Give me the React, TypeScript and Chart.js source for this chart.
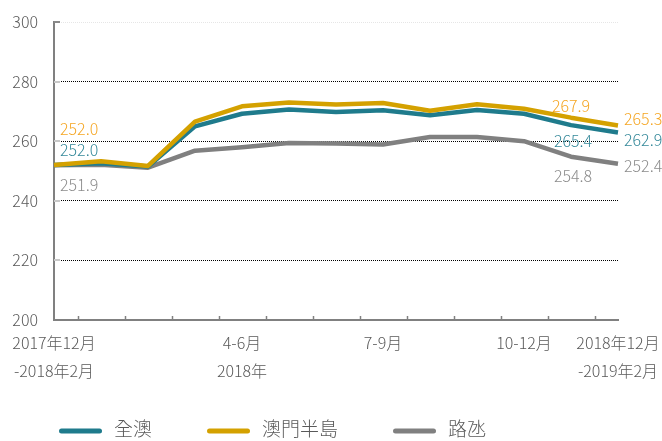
import { useEffect, useRef } from "react";
import { Chart, registerables } from "chart.js";

Chart.register(...registerables);

// ---- data ----
const periods = [
  "2017年12月-2018年2月", "2018年1-3月", "2018年2-4月", "2018年3-5月",
  "2018年4-6月", "2018年5-7月", "2018年6-8月", "2018年7-9月",
  "2018年8-10月", "2018年9-11月", "2018年10-12月", "2018年11月-2019年1月",
  "2018年12月-2019年2月",
];
const tickLabels: string[][] = [
  ["2017年12月", "-2018年2月"], [], [], [],
  ["4-6月", "2018年"], [], [], ["7-9月"],
  [], [], ["10-12月"], [],
  ["2018年12月", "-2019年2月"],
];
const seriesNames = ["全澳", "澳門半島", "路氹"];
const allMacau = [252.0, 252.6, 251.5, 265.0, 269.2, 270.6, 269.8, 270.4, 268.7, 270.5, 269.2, 265.4, 262.9];
const peninsula = [252.0, 253.3, 251.7, 266.6, 271.7, 273.0, 272.3, 272.8, 270.2, 272.4, 270.9, 267.9, 265.3];
const cotai = [251.9, 252.1, 251.1, 256.8, 258.0, 259.4, 259.2, 258.9, 261.4, 261.4, 260.0, 254.8, 252.4];
const yTicks = [200, 220, 240, 260, 280, 300];
const labelledIndices = [0, 11, 12];

// ---- styles ----
const lineColors = ["#1f7b8c", "#d4a100", "#808080"];
const labelColors = ["#35899a", "#f5a623", "#8c8c8c"];
const FONT = "'Noto Sans CJK TC', 'Noto Sans', sans-serif";
const CJK = "'Noto Sans CJK TC', 'Noto Sans', sans-serif";
const textGray = "#595959";
// label placement per labelled index: [dx, align, dy per series]
const labelPlacement: Record<number, { dx: number[]; align: CanvasTextAlign; dy: number[] }> = {
  0: { dx: [6, 6, 6], align: "left", dy: [-15, -36, 20] },
  11: { dx: [2, 0, 2], align: "center", dy: [16, -12, 19] },
  12: { dx: [6, 6, 6], align: "left", dy: [7, -6, 2] },
};

const decorPlugin = {
  id: "decor",
  afterDraw(chart: any) {
    const ctx = chart.ctx as CanvasRenderingContext2D;
    const x = chart.scales.x;
    const y = chart.scales.y;
    const area = chart.chartArea;
    ctx.save();
    // x axis tick marks between categories, pointing up
    ctx.strokeStyle = "#808080";
    ctx.lineWidth = 1.5;
    for (let i = 0; i < periods.length - 1; i++) {
      const px = Math.round((x.getPixelForValue(i) + x.getPixelForValue(i + 1)) / 2) + 0.5;
      ctx.beginPath();
      ctx.moveTo(px, area.bottom);
      ctx.lineTo(px, area.bottom - 4);
      ctx.stroke();
    }
    // y axis inner stubs
    ctx.lineWidth = 2;
    yTicks.forEach((v) => {
      if (v === yTicks[0]) return;
      const py = Math.round(y.getPixelForValue(v));
      ctx.strokeStyle = v === 300 ? "#8a8a8a" : "#c8c8c8";
      ctx.beginPath();
      ctx.moveTo(area.left, py);
      ctx.lineTo(area.left + 6, py);
      ctx.stroke();
    });
    // data labels
    ctx.font = `300 16px ${FONT}`;
    ctx.textBaseline = "middle";
    chart.data.datasets.forEach((ds: any, di: number) => {
      labelledIndices.forEach((idx) => {
        const p = labelPlacement[idx];
        const v = ds.data[idx] as number;
        const px = x.getPixelForValue(idx) + p.dx[di];
        const py = y.getPixelForValue(v) + p.dy[di];
        ctx.fillStyle = labelColors[di];
        ctx.textAlign = p.align;
        ctx.fillText(v.toFixed(1), px, py);
      });
    });
    // legend
    let lx = 59;
    const ly = 431;
    ctx.font = `300 19px ${CJK}`;
    ctx.textAlign = "left";
    chart.data.datasets.forEach((ds: any, di: number) => {
      ctx.strokeStyle = lineColors[di];
      ctx.lineWidth = 5;
      ctx.lineCap = "round";
      ctx.beginPath();
      ctx.moveTo(lx + 2.5, ly);
      ctx.lineTo(lx + 40.5, ly);
      ctx.stroke();
      const tx = lx + 43 + 12;
      ctx.fillStyle = textGray;
      ctx.fillText(ds.label, tx, ly - 2);
      lx = tx + ctx.measureText(ds.label).width + 55;
    });
    ctx.restore();
  },
};

export default function App() {
  const ref = useRef<HTMLCanvasElement>(null);
  useEffect(() => {
    document.body.style.margin = "0";
    const canvas = ref.current!;
    const seriesData = [allMacau, peninsula, cotai];
    const drawOrder = [2, 1, 3];
    const chart = new Chart(canvas, {
      type: "line",
      data: {
        labels: periods,
        datasets: seriesNames.map((name, i) => ({
          label: name,
          data: seriesData[i],
          borderColor: lineColors[i],
          backgroundColor: lineColors[i],
          borderWidth: 4.5,
          pointRadius: 0,
          tension: 0,
          borderJoinStyle: "round" as const,
          order: drawOrder[i],
        })),
      },
      options: {
        responsive: false,
        animation: false,
        devicePixelRatio: 1,
        layout: { padding: { left: 0, right: 44, top: 22, bottom: 0 } },
        plugins: { legend: { display: false }, tooltip: { enabled: false } },
        scales: {
          x: {
            type: "category",
            offset: false,
            grid: { display: false, drawTicks: false },
            border: { display: true, color: "#808080", width: 2 },
            ticks: {
              autoSkip: false,
              maxRotation: 0,
              padding: 9,
              color: textGray,
              font: { family: FONT, size: 16, weight: "300", lineHeight: "28px" },
              callback: (_v: any, i: number) => (tickLabels[i].length ? tickLabels[i] : ""),
            },
            afterFit: (s: any) => { s.height = 121; s.paddingLeft = 0; s.paddingRight = 0; },
          },
          y: {
            min: 200,
            max: 300,
            afterBuildTicks: (s: any) => { s.ticks = yTicks.map((v) => ({ value: v })); },
            grid: {
              drawTicks: false,
              lineWidth: 1,
              color: (c: any) => (c.tick && c.tick.value === 300 ? "#e6e6e6" : c.tick && c.tick.value === 200 ? "rgba(0,0,0,0)" : "#000000"),
            },
            border: { display: true, color: "#808080", width: 2, dash: [1, 1] },
            ticks: {
              padding: 16,
              color: textGray,
              font: { family: FONT, size: 16, weight: "300" },
            },
            afterFit: (s: any) => { s.width = 54; s.paddingTop = 0; s.paddingBottom = 0; },
          },
        },
      },
      plugins: [decorPlugin],
    });
    return () => chart.destroy();
  }, []);
  return (
    <div style={{ width: 662, height: 441 }}>
      <canvas ref={ref} width={662} height={441} style={{ display: "block" }} />
    </div>
  );
}
